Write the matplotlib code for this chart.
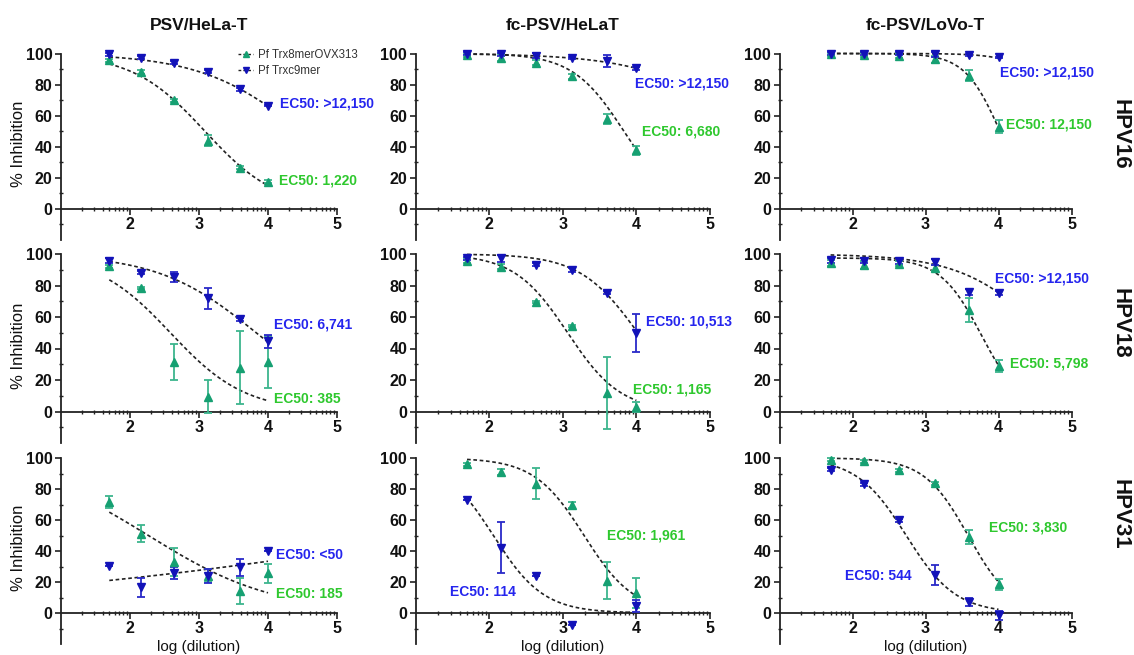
import numpy as np
import matplotlib
matplotlib.use("Agg")
import matplotlib.pyplot as plt
from matplotlib.ticker import FixedLocator
from matplotlib.lines import Line2D

plt.rcParams['font.family'] = ['Liberation Sans', 'DejaVu Sans']

# ---------------- data ----------------
col_titles = ["PSV/HeLa-T", "fc-PSV/HeLaT", "fc-PSV/LoVo-T"]
row_labels = ["HPV16", "HPV18", "HPV31"]
series_names = ["Pf Trx8merOVX313", "Pf Trxc9mer"]
log_dilution = [1.70, 2.16, 2.64, 3.13, 3.60, 4.00]
x_ticks = [2, 3, 4, 5]
y_ticks = [0, 20, 40, 60, 80, 100]

nan = float('nan')
# Pf Trx8merOVX313 (green), per column: PSV/HeLa-T, fc-PSV/HeLaT, fc-PSV/LoVo-T
trx8_hpv16 = [[95.5, 88, 70, 44, 26.4, 17.4],
              [99, 97.4, 94, 85.3, 57.8, 37.7],
              [99.4, 99, 98.3, 96.2, 85.6, 53]]
trx8_hpv16_err = [[1, 1.5, 1, 3.5, 1, 1],
                  [1, 2, 1.5, 1.5, 3, 3],
                  [1, 1.5, 1.5, 2, 3.5, 4]]
trx8_hpv18 = [[92.3, 78.5, 31.6, 9.4, 27.8, 31.4],
              [95.7, 91.9, 69.6, 54.3, 11.7, 2.8],
              [94.2, 93.1, 93.8, 91, 64.4, 28.9]]
trx8_hpv18_err = [[1, 0.5, 11.5, 10.5, 23, 16.5],
                  [1.5, 1.5, 0.5, 0.5, 22.8, 3],
                  [2, 2.5, 1.5, 2, 7.5, 4]]
trx8_hpv31 = [[71.6, 51, 32.8, 24.1, 14.4, 25.6],
              [96, 90.8, 83.3, 69.7, 20.9, 12.9],
              [98.9, 97.8, 92, 83.7, 49.3, 18.5]]
trx8_hpv31_err = [[4, 5.5, 9, 4, 8.5, 6],
                  [1, 2, 10, 2, 12, 9.5],
                  [1, 1, 1, 1, 4.5, 3.5]]

# Pf Trxc9mer (blue)
trx9_hpv16 = [[99.4, 97.2, 94, 88.3, 77, 66.4],
              [100, 99.4, 98.7, 97, 95, 90.5],
              [100, 100, 100, 99.4, 99, 97.5]]
trx9_hpv16_err = [[1, 1, 1, 1, 1, 0.5],
                  [1, 1, 1.5, 0.5, 4, 1],
                  [1, 1, 1, 1.5, 0.5, 0.5]]
trx9_hpv18 = [[95.8, 88, 85.4, 71.8, 58.6, 44.6],
              [97.2, 97.2, 93.2, 89.8, 75.5, 50],
              [95.9, 95.7, 95.5, 94.8, 75.9, 75.2]]
trx9_hpv18_err = [[1.5, 1, 3, 6.5, 1, 4],
                  [1, 2, 1, 1, 1, 12],
                  [1.5, 1.5, 2, 2, 2, 1.5]]
trx9_hpv31 = [[30.2, 16.6, 25.9, 23.7, 29.5, 39.9],
              [72.9, 42.2, 24, -7.9, nan, 4.6],
              [92.4, 83, 59.8, 24.6, 7, -1.5]]
trx9_hpv31_err = [[0, 6, 4, 4.5, 5.5, 0],
                  [0, 16.5, 0, 0, 0, 4],
                  [1, 1, 1, 6.5, 2.5, 3]]

# 4PL fit parameters (top, bottom, logEC50, hill)
fit_trx8_hpv16 = [(100, 0, 3.086, 0.824), (100, 0, 3.83, 1.25), (100, 0, 4.02, 1.8)]
fit_trx9_hpv16 = [(100, 0, 4.49, 0.59), (100, 0, 5.6, 0.61), (100, 0, 5.0, 1.5)]
fit_trx8_hpv18 = [(100, 0, 2.585, 0.8), (100, 0, 3.066, 1.2), (97.5, 0, 3.763, 1.55)]
fit_trx9_hpv18 = [(100, 0, 3.829, 0.61), (100, 0, 4.02, 1.1), (100, 0, 4.65, 0.75)]
fit_trx8_hpv31 = [(100, 0, 2.267, 0.476), (100, 0, 3.29, 1.28), (100, 0, 3.583, 1.44)]
fit_trx9_hpv31 = [(100, 0, 6.51, -0.1196), (100, 0, 2.057, 1.27), (100, 0, 2.736, 1.28)]

ec50_trx8 = [["EC50: 1,220", "EC50: 6,680", "EC50: 12,150"],
             ["EC50: 385", "EC50: 1,165", "EC50: 5,798"],
             ["EC50: 185", "EC50: 1,961", "EC50: 3,830"]]
ec50_trx9 = [["EC50: >12,150", "EC50: >12,150", "EC50: >12,150"],
             ["EC50: 6,741", "EC50: 10,513", "EC50: >12,150"],
             ["EC50: <50", "EC50: 114", "EC50: 544"]]

# ---------------- layout / style ----------------
W, H = 1134, 655
col_px = [(61, 276), (415.5, 294.5), (779.5, 292)]
row_px = [(53.5, 240), (254, 443), (458, 644)]
pos_trx8 = [[(4.16, 18), (4.07, 50), (4.10, 54)],
            [(4.09, 8), (3.95, 14), (4.16, 30.6)],
            [(4.11, 12.3), (3.60, 50), (3.87, 55.4)]]
pos_trx9 = [[(4.17, 68), (3.98, 81), (4.02, 88)],
            [(4.09, 55.4), (4.13, 57), (3.95, 84.5)],
            [(4.11, 37.5), (1.47, 13.4), (1.90, 24)]]

green_m = '#16a072'
green_e = '#3db58e'
blue_m = '#1212b8'
blue_e = '#2a2ac8'
green_t = '#2ec82e'
blue_t = '#2525ee'

def fourpl(x, p):
    top, bottom, logec, hill = p
    return bottom + (top - bottom) / (1 + 10 ** ((x - logec) * hill))

green_rows = [(trx8_hpv16, trx8_hpv16_err, fit_trx8_hpv16),
              (trx8_hpv18, trx8_hpv18_err, fit_trx8_hpv18),
              (trx8_hpv31, trx8_hpv31_err, fit_trx8_hpv31)]
blue_rows = [(trx9_hpv16, trx9_hpv16_err, fit_trx9_hpv16),
             (trx9_hpv18, trx9_hpv18_err, fit_trx9_hpv18),
             (trx9_hpv31, trx9_hpv31_err, fit_trx9_hpv31)]

fig = plt.figure(figsize=(W / 100, H / 100), dpi=100)

minor_x = [n + np.log10(k) for n in range(1, 5) for k in range(2, 10)]
minor_y = [-10, 10, 30, 50, 70, 90]
xfit = np.linspace(log_dilution[0], log_dilution[-1], 200)
xarr = np.array(log_dilution)

for r in range(3):
    for c in range(3):
        l, w = col_px[c]
        t, b = row_px[r]
        ax = fig.add_axes([l / W, 1 - b / H, w / W, (b - t) / H])
        ax.set_xlim(1, 5)
        ax.set_ylim(-20, 100)
        ax.spines['top'].set_visible(False)
        ax.spines['right'].set_visible(False)
        ax.spines['bottom'].set_position(('data', 0))
        for s in ('left', 'bottom'):
            ax.spines[s].set_linewidth(1.3)
            ax.spines[s].set_color('#222222')
        ax.xaxis.set_major_locator(FixedLocator(x_ticks))
        ax.xaxis.set_minor_locator(FixedLocator(minor_x))
        ax.yaxis.set_major_locator(FixedLocator(y_ticks))
        ax.yaxis.set_minor_locator(FixedLocator(minor_y))
        ax.tick_params(axis='both', which='major', direction='out', length=4,
                       width=1.2, labelsize=11.5, pad=2, color='#222222')
        ax.tick_params(axis='both', which='minor', direction='inout', length=3,
                       width=1.0, color='#222222')
        for lab in ax.get_xticklabels() + ax.get_yticklabels():
            lab.set_fontweight('bold')
            lab.set_color('#111111')
        ax.patch.set_alpha(0)

        for (vals, errs, fits), mk, mc, ec in (
                (green_rows[r], '^', green_m, green_e),
                (blue_rows[r], 'v', blue_m, blue_e)):
            yv = np.array(vals[c], dtype=float)
            ev = np.array(errs[c], dtype=float)
            ax.plot(xfit, fourpl(xfit, fits[c]), color='#222222', lw=1.2,
                    linestyle=(0, (2.2, 1.6)), zorder=3, clip_on=False)
            ax.errorbar(xarr, yv, yerr=ev, fmt='none', ecolor=ec, elinewidth=1.3,
                        capsize=3, capthick=1.3, zorder=4, clip_on=False)
            ax.plot(xarr, yv, linestyle='none', marker=mk, markersize=6,
                    color=mc, zorder=5, clip_on=False)

        gx, gy = pos_trx8[r][c]
        bx, by = pos_trx9[r][c]
        ax.text(gx, gy, ec50_trx8[r][c], color=green_t, fontsize=10,
                fontweight='bold', ha='left', va='center')
        ax.text(bx, by, ec50_trx9[r][c], color=blue_t, fontsize=10,
                fontweight='bold', ha='left', va='center')

        if r == 0 and c == 0:
            handles = [Line2D([], [], color='#222222', lw=1.0, linestyle=(0, (2, 1.5)),
                              marker='^', markersize=4.5, markerfacecolor=green_m,
                              markeredgecolor=green_m),
                       Line2D([], [], color='#222222', lw=1.0, linestyle=(0, (2, 1.5)),
                              marker='v', markersize=4.5, markerfacecolor=blue_m,
                              markeredgecolor=blue_m)]
            leg = ax.legend(handles, series_names, loc='upper left',
                            bbox_to_anchor=(0.625, 1.05), frameon=False,
                            fontsize=8.3, handlelength=1.3, handletextpad=0.4,
                            labelspacing=0.35, borderaxespad=0)
            for tx in leg.get_texts():
                tx.set_color('#333333')

        if r == 0:
            fig.text((l + w / 2) / W, 1 - 25 / H, col_titles[c], ha='center',
                     va='center', fontsize=12.5, fontweight='bold', color='#111111')
        if c == 0:
            fig.text(19 / W, 1 - ((t + b) / 2 - 3) / H, "% Inhibition", rotation=90,
                     ha='center', va='center', fontsize=12, color='#111111')
        if r == 2:
            fig.text((l + w / 2) / W, 1 - 647 / H, "log (dilution)", ha='center',
                     va='center', fontsize=11, color='#111111')

row_y = [134, 323.5, 514]
for r in range(3):
    fig.text(1131 / W, 1 - row_y[r] / H, row_labels[r], rotation=270,
             ha='right', va='center', fontsize=16, fontweight='bold', color='#111111')

fig.savefig("out.png", dpi=100)
